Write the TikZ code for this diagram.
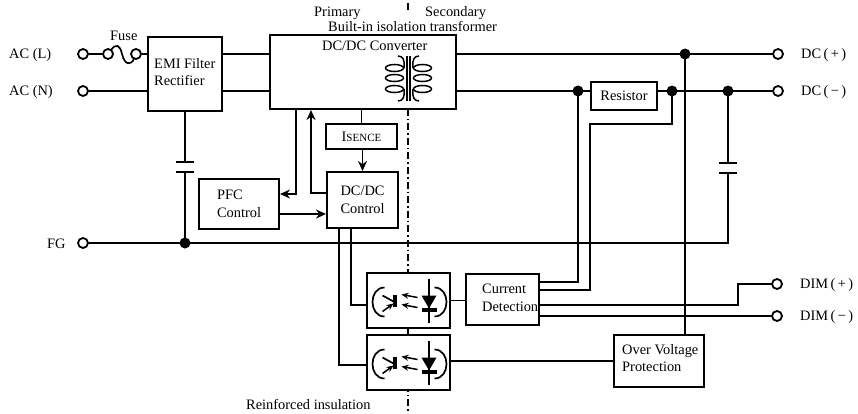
\documentclass[tikz,border=0pt]{standalone}
\usepackage{fontspec}
\setmainfont{Liberation Serif}
\usetikzlibrary{arrows.meta}
\tikzset{
  blk/.style={draw,line width=2pt,fill=white,inner sep=0pt,align=left},
  txt/.style={inner sep=0pt,align=left,anchor=west},
  term/.style={draw,circle,line width=1.8pt,fill=white,inner sep=0pt,minimum size=10pt},
  wire/.style={line width=1.7pt},
  flow/.style={line width=1.7pt,-{Stealth[length=10pt,width=9pt]}},
  plate/.style={line width=1.7pt}
}
% one optocoupler: name, centre x, centre y
\newcommand{\optobox}[3]{
\node[blk,minimum width=83pt,minimum height=55pt] (#1) at (#2,#3) {};
\begin{scope}[shift={(#2,#3)}]
\draw[wire] (-24,-13) .. controls (-40,-13) and (-40,16) .. (-24,16);
\draw[wire] (26,-13) .. controls (42,-13) and (42,16) .. (26,16);
\draw[line width=4.5pt] (-13.5,-6)--(-13.5,6);
\draw[wire] (-26,-5)--(-15,1);
\draw[line width=1.5pt,-{Stealth[length=7pt,width=6pt]}] (-26,11)--(-15,3);
\draw[line width=1.5pt,-{Stealth[length=7pt,width=6pt]}] (9,-3)--(-7,-6);
\draw[line width=1.5pt,-{Stealth[length=7pt,width=6pt]}] (9,7)--(-7,4);
\draw[wire] (20.5,-22)--(20.5,22);
\fill (13,-5)--(28,-5)--(20.5,8)--cycle;
\draw[line width=3.5pt] (13,9.5)--(28,9.5);
\end{scope}}
% capacitor on a vertical wire: x, y of upper plate
\newcommand{\capplates}[2]{\draw[plate] (#1-9,#2)--(#1+9,#2) (#1-9,#2+10)--(#1+9,#2+10);}

\begin{document}
\begin{tikzpicture}[x=1pt,y=-1pt,font=\fontsize{14.4}{17.5}\selectfont]
\useasboundingbox (0,0) rectangle (858,414);
% isolation line
\coordinate (top) at (407.5,3);
\coordinate (topend) at (407.5,11);
\coordinate (bot) at (407.5,411);
\coordinate (botstart) at (407.5,109);
\draw[line width=2pt,dash pattern=on 7pt off 3pt on 1.5pt off 3pt] (top)--(topend) (botstart)--(bot);
% terminals
\foreach \n/\x/\y in {acl/83/54,acn/83/91,fg/83/243,dcp/778/54,dcn/778/91,dimp/777/284,dimn/777/316,fa/108/54,fb/136/54}{\node[term] (\n) at (\x,\y) {};}
% blocks
\node[blk,minimum width=74pt,minimum height=74pt] (emi) at (185,74) {};
\node[blk,minimum width=186pt,minimum height=74pt] (main) at (363,72) {};
\node[blk,minimum width=66pt,minimum height=28pt] (res) at (624,96) {Resistor};
\node[blk,minimum width=71pt,minimum height=25pt] (isn) at (361.5,136.5) {I{\fontsize{11}{12}\selectfont SENCE}};
\node[blk,minimum width=80pt,minimum height=50pt] (pfc) at (239,204) {PFC\\Control};
\node[blk,minimum width=71pt,minimum height=56pt] (ctl) at (362.5,200) {DC/DC\\Control};
\node[blk,minimum width=73pt,minimum height=51pt] (cur) at (502.5,299.5) {};
\node[blk,minimum width=90pt,minimum height=52pt] (ovp) at (659,361) {};
\optobox{opa}{408.5}{300.5}
\optobox{opb}{408.5}{362.5}
% junctions
\foreach \n/\x/\y in {ja/685/54,jb/578/91,jc/672/91,jd/728/91,je/185/243}{\coordinate (\n) at (\x,\y);}
\coordinate (ca) at (590,124);\coordinate (cb) at (672,124);
\coordinate (dimk) at (738,305);\coordinate (dimj) at (738,284);
\coordinate (fbk) at (311,193);\coordinate (pfk) at (296,194);
% fuse
\draw[wire] (acl)--(fa);
\draw[wire] (111,50) .. controls (116,43) and (120,45) .. (122,54) .. controls (125,66) and (131,65) .. (134,59);
\draw[wire] (fb)--(fb-|emi.west);
% wires
\draw[wire] (acn)--(acn-|emi.west);
\draw[wire] (acl-|emi.east)--(acl-|main.west) (acn-|emi.east)--(acn-|main.west);
\draw[wire] (acl-|main.east)--(dcp);
\draw[wire] (acn-|main.east)--(res.west|-jb) (res.east|-jc)--(dcn);
\draw[wire] (fg)--(728,243)--(728,173) (728,163)--(jd);
\draw[wire] (emi.south-|je)--(185,162) (185,172)--(je);
\capplates{185}{162}
\capplates{728}{163}
\draw[wire] (jb)--(578,282)--(cur.east|-578,282);
\draw[wire] (jc)--(cb)--(ca)--(590,290)--(cur.east|-590,290);
\draw[wire] (ja)--(685,335);
\draw[wire] (cur.east|-dimk)--(dimk)--(dimj)--(dimp);
\draw[wire] (cur.east|-dimn)--(dimn);
\draw[wire] (opa.east)--(cur.west|-opa.east);
\draw[wire] (opb.east|-ovp.west)--(ovp.west);
\draw[wire] (main.south-|isn)--(isn.north);
\draw[flow] (isn.south-|ctl)--(ctl.north);
\draw[flow] (ctl.west|-fbk)--(fbk)--(main.south-|fbk);
\draw[flow] (main.south-|pfk)--(pfk)--(pfc.east|-pfk);
\draw[flow] (pfc.east|-0,214)--(ctl.west|-0,214);
\draw[wire] (ctl.south-|351,0)--(351,305)--(opa.west|-0,305);
\draw[wire] (ctl.south-|339,0)--(339,365)--(opb.west|-0,365);
\foreach \n in {ja,jb,jc,jd,je}\fill (\n) circle (5.5pt);
% labels
\node[txt] (lacl) at (9,55) {AC (L)};
\node[txt] (lacn) at (9,92) {AC (N)};
\node[txt] (lfg) at (47,244) {FG};
\node[txt] (ldcp) at (801,55) {DC\,(\,+\,)};
\node[txt] (ldcn) at (801,92) {DC\,(\,−\,)};
\node[txt] (ldimp) at (800,285) {DIM\,(\,+\,)};
\node[txt] (ldimn) at (800,317) {DIM\,(\,−\,)};
\node[txt] (lfuse) at (110,36) {Fuse};
\node[txt] (lpri) at (314,13) {Primary};
\node[txt] (lsec) at (425,13) {Secondary};
\node[txt] (lbuilt) at (328,27) {Built-in isolation transformer};
\node[txt] (lconv) at (322,46) {DC/DC Converter};
\node[txt] (lemi) at (154,72) {EMI Filter\\Rectifier};
\node[txt] (lcur) at (482,298) {Current\\Detection};
\node[txt] (lovp) at (622,358) {Over Voltage\\Protection};
\node[txt] (lins) at (246,404) {Reinforced insulation};
% transformer
\draw[wire] (407,56)--(407,101) (410,56)--(410,101);
\foreach \y in {68,78,89}{\draw[line width=1.5pt] (394.5,\y) ellipse (9pt and 3.5pt);\draw[line width=1.5pt] (422.5,\y) ellipse (9pt and 3.5pt);}
\draw[line width=1.5pt] (398,56) .. controls (403,56) and (405,60) .. (404,68) (404,89) .. controls (405,97) and (403,101) .. (398,101);
\draw[line width=1.5pt] (419,56) .. controls (414,56) and (412,60) .. (413,68) (413,89) .. controls (412,97) and (414,101) .. (419,101);
\end{tikzpicture}
\end{document}
